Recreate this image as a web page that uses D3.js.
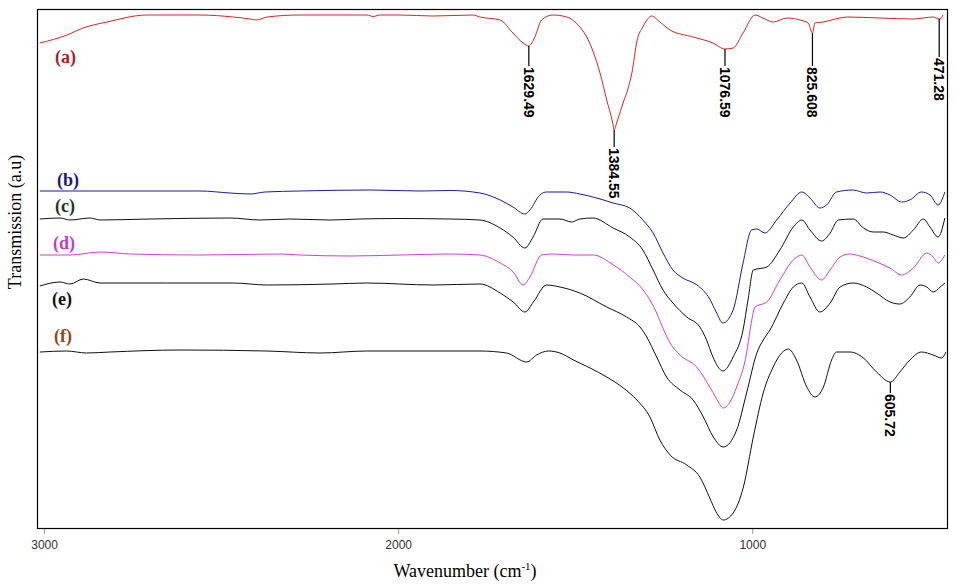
<!DOCTYPE html>
<html>
<head>
<meta charset="utf-8">
<script src="https://cdn.jsdelivr.net/npm/d3@7"></script>
<style>
  html, body { margin: 0; padding: 0; background: #fff; }
  svg { display: block; }
</style>
</head>
<body>
<svg id="chart" width="955" height="585"></svg>
<script>
// ---------------- DATA (wavenumber cm-1, transmission a.u.) ----------------
const seriesKeys = ["a", "b", "c", "d", "e", "f"];
const seriesLabels = ["(a)", "(b)", "(c)", "(d)", "(e)", "(f)"];

const curveA = [[3012,485],[2935,493],[2890,500],[2822,506],[2709,513],[2560,513],[2466,511],[2418,509],[2399,508],[2370,511],[2277,513],[2088,513],[2071,511.5],[2051,513],[1995,513],[1902,512],[1789,513],[1769,511],[1712,508],[1676,495],[1647,485],[1631,482],[1614,491],[1595,508],[1563,513],[1524,511],[1487,501],[1463,488],[1450,477],[1430,455],[1411,428],[1394,405],[1390,398],[1383,405],[1362,428],[1352,438],[1340,455],[1325,488],[1309,501],[1284,512],[1261,506],[1232,498],[1167,491],[1111,485],[1077,479],[1054,480],[1026,495],[992,513],[970,510],[941,506],[902,510],[865,508],[842,505],[830,495],[823,505],[800,506],[732,511],[639,510],[546,509],[489,511],[472,509],[461,513]];

const curveB = [[3012,337],[2842,337],[2560,337],[2475,335],[2418,334],[2376,336],[2277,337],[2080,338],[1938,337],[1854,337.5],[1769,335],[1712,328],[1676,321],[1642,314],[1628,318],[1600,333],[1581,336],[1524,336],[1487,334],[1439,330],[1393,325],[1346,320],[1309,308],[1280,295],[1252,275],[1224,258],[1196,250],[1156,243],[1120,229],[1102,216],[1083,205],[1054,218],[1026,265],[1002,298],[987,299],[964,295],[931,308],[893,325],[860,336],[837,330],[809,320],[790,323],[762,336],[716,338],[677,335],[639,336],[611,333],[578,326],[555,328],[522,336],[498,333],[475,323],[456,336]];

const curveC = [[3012,309],[2955,310],[2927,308],[2870,310],[2842,308],[2701,309],[2475,310],[2390,308],[2306,309],[2192,308],[2108,309],[1995,309.5],[1854,309],[1769,308],[1712,300],[1676,291],[1642,280],[1619,291],[1591,309],[1543,309],[1510,306],[1487,309],[1450,310],[1393,300],[1346,291],[1309,278],[1280,258],[1252,238],[1224,225],[1185,211],[1148,201],[1129,188],[1111,171],[1083,157],[1054,171],[1026,198],[1012,228],[997,258],[959,261],[922,278],[884,301],[860,308],[837,298],[804,287],[780,295],[757,308],[715,309],[686,300],[658,296],[630,296],[602,293],[573,290],[545,298],[517,309],[498,301],[475,291],[456,310]];

const curveD = [[3012,273],[2927,273],[2842,276],[2757,274],[2560,273],[2334,274],[2277,273],[2136,272],[1995,273],[1854,274],[1769,273],[1712,265],[1675,256],[1647,243],[1628,251],[1595,273],[1562,274],[1505,273],[1449,273],[1392,263],[1346,251],[1308,238],[1270,215],[1256,203],[1232,185],[1204,173],[1157,161],[1120,141],[1102,130],[1082,120],[1063,126],[1044,141],[1016,175],[1006,198],[992,221],[959,226],[922,248],[884,268],[860,273],[837,261],[804,248],[780,258],[752,271],[724,274],[696,272],[649,266],[611,260],[578,253],[545,260],[507,275],[489,271],[475,265],[456,273]];

const curveE = [[3012,242],[2955,246],[2927,244],[2889,249],[2842,245],[2749,245],[2654,245],[2466,245],[2371,243],[2184,244],[2089,245],[1902,243],[1769,244],[1712,235],[1675,226],[1642,216],[1618,226],[1581,243],[1543,241],[1487,235],[1411,221],[1355,211],[1317,201],[1298,191],[1270,171],[1242,151],[1204,138],[1167,128],[1138,111],[1110,91],[1082,81],[1044,98],[1016,135],[987,175],[969,188],[950,198],[912,225],[884,241],[860,245],[837,231],[809,216],[780,225],[752,241],[715,245],[677,241],[649,235],[611,226],[583,224],[555,231],[526,243],[507,241],[489,236],[469,241],[456,245]];

const curveF = [[3012,176],[2936,177],[2880,175],[2814,176],[2616,178],[2371,177],[2221,175],[2089,177],[1769,177],[1694,175],[1637,166],[1609,173],[1576,177],[1543,175],[1505,168],[1458,160],[1411,151],[1364,140],[1326,128],[1289,111],[1261,88],[1232,73],[1185,63],[1148,51],[1120,30],[1102,16],[1082,8],[1054,15],[1025,41],[997,91],[969,135],[941,161],[917,175],[898,179],[875,168],[846,141],[823,131],[799,141],[776,168],[762,176],[724,176],[686,170],[649,156],[610,146],[583,156],[555,168],[522,176],[489,173],[465,170],[453,176]];

const seriesData = [curveA, curveB, curveC, curveD, curveE, curveF];

// Peak annotations: series, text (wavenumber read in the reference)
const peakSeries = ["a", "a", "a", "a", "a", "f"];
const peakTexts  = ["1629.49", "1384.55", "1076.59", "825.608", "471.28", "605.72"];

const xTickValues = [3000, 2000, 1000];

// ---------------- STYLE / LAYOUT ----------------
const lineColors  = ["#d02828", "#1c1c9a", "#111111", "#cc44cc", "#111111", "#111111"];
const labelColors = ["#a8202a", "#1a1a80", "#1b3a1b", "#c040c0", "#111111", "#8b4a1c"];
const labelX = [55, 57, 55, 53, 52, 54];
const labelOffsets = [20, -5, -7, -6, 19, -10];    // px from curve start
const leaderLengths = [20, 17, 17, 33, 38, 11];    // px

const W = 955, H = 585;
const box = { left: 37, right: 947, top: 9, bottom: 528 };

const svg = d3.select("#chart");
svg.append("rect").attr("width", W).attr("height", H).attr("fill", "#fff");

const x = d3.scaleLinear().domain([3020, 450]).range([box.left, box.right]);
const y = d3.scaleLinear().domain([0, 519]).range([box.bottom, box.top]);

// frame
svg.append("rect")
  .attr("x", box.left + 0.5).attr("y", box.top + 0.5)
  .attr("width", box.right - box.left).attr("height", box.bottom - box.top)
  .attr("fill", "none").attr("stroke", "#000").attr("stroke-width", 1.2);

// x axis
const xAxis = d3.axisBottom(x).tickValues(xTickValues).tickSizeInner(5).tickSizeOuter(0).tickPadding(6)
  .tickFormat(d3.format("d"));
const gx = svg.append("g").attr("transform", `translate(0,${box.bottom + 1})`).call(xAxis);
gx.select(".domain").remove();
gx.selectAll(".tick line").attr("stroke", "#999");
gx.selectAll(".tick text").attr("fill", "#333").attr("font-family", "Liberation Sans, Arial, sans-serif").attr("font-size", 12);

// axis titles
const xt = svg.append("text")
  .attr("x", 465).attr("y", 577)
  .attr("text-anchor", "middle")
  .attr("font-family", "Liberation Serif, Times New Roman, serif")
  .attr("font-size", 18).attr("fill", "#000");
xt.append("tspan").text("Wavenumber (cm");
xt.append("tspan").attr("dy", -7).attr("font-size", 11).text("-1");
xt.append("tspan").attr("dy", 7).text(")");

svg.append("text")
  .attr("transform", "translate(21,222) rotate(-90)")
  .attr("text-anchor", "middle")
  .attr("font-family", "Liberation Serif, Times New Roman, serif")
  .attr("font-size", 18).attr("fill", "#000")
  .text("Transmission (a.u)");

// curves
const line = d3.line()
  .x(d => x(d[0]))
  .y(d => y(d[1]))
  .curve(d3.curveMonotoneX);

const g = svg.append("g");
seriesData.forEach((data, i) => {
  g.append("path")
    .attr("d", line(data))
    .attr("fill", "none")
    .attr("stroke", lineColors[i])
    .attr("stroke-width", 1);
  svg.append("text")
    .attr("x", labelX[i])
    .attr("y", y(data[0][1]) + labelOffsets[i])
    .attr("font-family", "Liberation Serif, Times New Roman, serif")
    .attr("font-weight", "bold")
    .attr("font-size", 18)
    .attr("fill", labelColors[i])
    .text(seriesLabels[i]);
});

// peak annotations: lowest point of the series within a small window around the labelled wavenumber
peakTexts.forEach((t, i) => {
  const data = seriesData[seriesKeys.indexOf(peakSeries[i])];
  const target = parseFloat(t);
  const near = data.filter(p => Math.abs(p[0] - target) <= 12);
  const best = near.reduce((m, p) => (p[1] < m[1] ? p : m), near[0]);
  const px = x(best[0]), py = y(best[1]);
  const ly = py + leaderLengths[i];
  svg.append("line")
    .attr("x1", px).attr("x2", px).attr("y1", py).attr("y2", ly)
    .attr("stroke", "#000").attr("stroke-width", 1.2);
  svg.append("text")
    .attr("transform", `translate(${px},${ly + 1}) rotate(90)`)
    .attr("dominant-baseline", "central")
    .attr("font-family", "Liberation Sans, Arial, sans-serif")
    .attr("font-weight", "bold")
    .attr("font-size", 14)
    .attr("fill", "#000")
    .text(t);
});
</script>
</body>
</html>
